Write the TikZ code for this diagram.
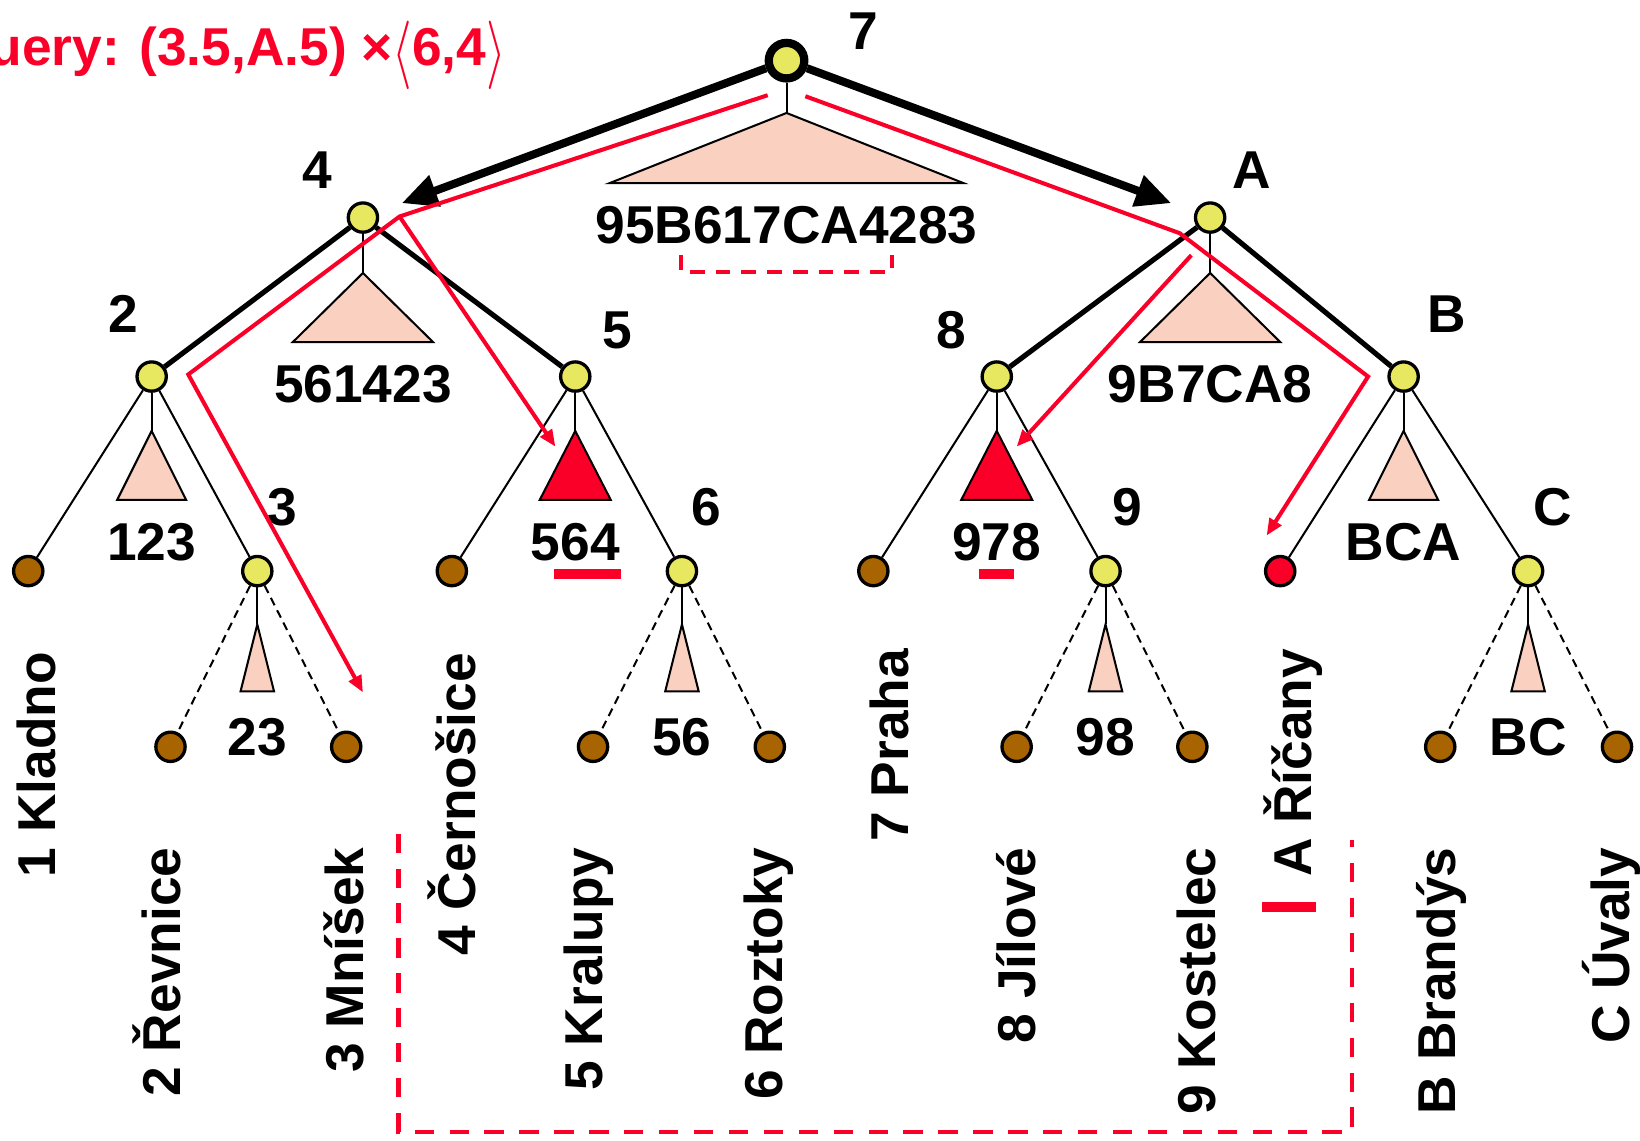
\documentclass[tikz,border=0pt]{standalone}
\usepackage{fontspec}
\setmainfont{Liberation Sans}
\usetikzlibrary{arrows.meta}
\definecolor{inner}{RGB}{232,232,96}
\definecolor{leafc}{RGB}{168,100,0}
\definecolor{subtree}{RGB}{250,208,192}
\definecolor{hit}{RGB}{250,0,40}
\newcommand{\lang}{\raisebox{-0.12em}{\scalebox{1.1}[1.5]{$\langle$}}}
\newcommand{\rang}{\raisebox{-0.12em}{\scalebox{1.1}[1.5]{$\rangle$}}}

\begin{document}
\begin{tikzpicture}[x=0.02cm,y=-0.02cm,font=\fontsize{29}{34}\selectfont\bfseries]
    \tikzset{vertex/.style = {shape=circle,draw,line width=1.8pt,fill=inner,minimum size=0.56cm,inner sep=0pt}}
    \tikzset{leaf/.style = {vertex,fill=leafc}}
    \tikzset{tri/.style = {draw,line width=1.1pt,fill=subtree}}
    \tikzset{branch/.style = {line width=1.1pt}}
    \tikzset{hidden/.style = {branch,dash pattern=on 4.5pt off 3pt}}
    \tikzset{trunk/.style = {line width=2.8pt}}
    \tikzset{descend/.style = {line width=4.4pt,-{Triangle[length=0.68cm,width=0.6cm]},shorten >=0.48cm}}
    \tikzset{way/.style = {hit,line width=2.2pt,-{Triangle[length=0.32cm,width=0.26cm]}}}
    \tikzset{rangebox/.style = {hit,line width=2.2pt,dash pattern=on 10.5pt off 8.5pt}}
    \tikzset{hitbar/.style = {hit,line width=5.7pt}}
    \tikzset{city/.style = {rotate=90,anchor=base east,inner sep=0pt}}
    \useasboundingbox (0,0) rectangle (1568,1090);
    % vertices
    \node[vertex,line width=4.5pt,minimum size=0.68cm] (n7) at (752,58) {};
    \node[vertex] (n4) at (347,208) {};
    \node[vertex] (nA) at (1157,208) {};
    \node[vertex] (n2) at (145,360) {};
    \node[vertex] (n5) at (550,360) {};
    \node[vertex] (n8) at (953,360) {};
    \node[vertex] (nB) at (1342,360) {};
    \node[vertex] (n3) at (246,546) {};
    \node[vertex] (n6) at (652,546) {};
    \node[vertex] (n9) at (1057,546) {};
    \node[vertex] (nC) at (1461,546) {};

    \node[leaf] (l1) at (27,546) {};
    \node[leaf] (l4) at (432,546) {};
    \node[leaf] (l7) at (835,546) {};
    \node[leaf,fill=hit] (lA) at (1224,546) {};
    \node[leaf] (l2) at (163,714) {};
    \node[leaf] (l3) at (331,714) {};
    \node[leaf] (l5) at (567,714) {};
    \node[leaf] (l6) at (736,714) {};
    \node[leaf] (l8) at (972,714) {};
    \node[leaf] (l9) at (1140,714) {};
    \node[leaf] (lB) at (1377,714) {};
    \node[leaf] (lC) at (1546,714) {};

    % keys
    \node (k7) at (825,30) {7};
    \node (k4) at (303,163) {4};
    \node (kA) at (1197,163) {A};
    \node (k2) at (118,300) {2};
    \node (k5) at (590,316) {5};
    \node (k8) at (910,316) {8};
    \node (kB) at (1383,300) {B};
    \node (k3) at (270,485) {3};
    \node (k6) at (675,485) {6};
    \node (k9) at (1078,485) {9};
    \node (kC) at (1485,485) {C};

    % subtrees
    \coordinate (t7) at (752,108);
    \coordinate (t4) at (347,261);
    \coordinate (tA) at (1157,261);
    \coordinate (t2) at (145,412);
    \coordinate (t5) at (550,412);
    \coordinate (t8) at (953,412);
    \coordinate (tB) at (1342,412);
    \coordinate (t3) at (246,597);
    \coordinate (t6) at (652,597);
    \coordinate (t9) at (1057,597);
    \coordinate (tC) at (1461,597);
    \draw[tri] (t7) -- ++(-169,67) -- ++(338,0) -- cycle;
    \draw[tri] (t4) -- ++(-67,66) -- ++(134,0) -- cycle;
    \draw[tri] (tA) -- ++(-67,66) -- ++(134,0) -- cycle;
    \draw[tri] (t2) -- ++(-33,66) -- ++(66,0) -- cycle;
    \draw[tri,fill=hit] (t5) -- ++(-34,66) -- ++(68,0) -- cycle;
    \draw[tri,fill=hit] (t8) -- ++(-34,66) -- ++(68,0) -- cycle;
    \draw[tri] (tB) -- ++(-33,66) -- ++(66,0) -- cycle;
    \draw[tri] (t3) -- ++(-16,64) -- ++(32,0) -- cycle;
    \draw[tri] (t6) -- ++(-16,64) -- ++(32,0) -- cycle;
    \draw[tri] (t9) -- ++(-16,64) -- ++(32,0) -- cycle;
    \draw[tri] (tC) -- ++(-16,64) -- ++(32,0) -- cycle;

    \node (s7) at (752,215) {95B617CA4283};
    \node (s4) at (347,367) {561423};
    \node (sA) at (1157,367) {9B7CA8};
    \node (s2) at (145,518) {123};
    \node (s5) at (550,518) {564};
    \node (s8) at (953,518) {978};
    \node (sB) at (1342,518) {BCA};
    \node (s3) at (246,705) {23};
    \node (s6) at (652,705) {56};
    \node (s9) at (1057,705) {98};
    \node (sC) at (1461,705) {BC};

    % cities
    \node[city] (c1) at (53,623) {1 Kladno};
    \node[city] (c4) at (455,624) {4 Černošice};
    \node[city] (c7) at (869,620) {7 Praha};
    \node[city] (cA) at (1254,620) {A Říčany};
    \node[city] (c2) at (173,810) {2 Řevnice};
    \node[city] (c3) at (348,810) {3 Mníšek};
    \node[city] (c5) at (576,810) {5 Kralupy};
    \node[city] (c6) at (748,810) {6 Roztoky};
    \node[city] (c8) at (990,810) {8 Jílové};
    \node[city] (c9) at (1162,810) {9 Kostelec};
    \node[city] (cB) at (1392,810) {B Brandýs};
    \node[city] (cC) at (1558,810) {C Úvaly};

    %edges
    \draw[descend] (n7) -- (n4);
    \draw[descend] (n7) -- (nA);
    \draw[trunk] (n4) -- (n2);
    \draw[trunk] (n4) -- (n5);
    \draw[trunk] (nA) -- (n8);
    \draw[trunk] (nA) -- (nB);

    \draw[branch] (n2) -- (l1);
    \draw[branch] (n2) -- (n3);
    \draw[branch] (n5) -- (l4);
    \draw[branch] (n5) -- (n6);
    \draw[branch] (n8) -- (l7);
    \draw[branch] (n8) -- (n9);
    \draw[branch] (nB) -- (lA);
    \draw[branch] (nB) -- (nC);

    \draw[hidden] (n3) -- (l2);
    \draw[hidden] (n3) -- (l3);
    \draw[hidden] (n6) -- (l5);
    \draw[hidden] (n6) -- (l6);
    \draw[hidden] (n9) -- (l8);
    \draw[hidden] (n9) -- (l9);
    \draw[hidden] (nC) -- (lB);
    \draw[hidden] (nC) -- (lC);

    % stems
    \draw[branch] (n7) -- (t7);
    \draw[branch] (n4) -- (t4);
    \draw[branch] (nA) -- (tA);
    \draw[branch] (n2) -- (t2);
    \draw[branch] (n5) -- (t5);
    \draw[branch] (n8) -- (t8);
    \draw[branch] (nB) -- (tB);
    \draw[branch] (n3) -- (t3);
    \draw[branch] (n6) -- (t6);
    \draw[branch] (n9) -- (t9);
    \draw[branch] (nC) -- (tC);

    % query
    \node[hit,anchor=base east] (query) at (490,63) {Query: (3.5,A.5) ×\lang6,4\rang};
    \coordinate (r1) at (734,91);
    \coordinate (r2) at (382,207);
    \coordinate (r3) at (180,358);
    \coordinate (e1) at (347,662);
    \coordinate (e2) at (531,427);
    \coordinate (r4) at (770,92);
    \coordinate (r5) at (1128,223);
    \coordinate (r6) at (1308,360);
    \coordinate (e3) at (1211,512);
    \coordinate (r7) at (1139,244);
    \coordinate (e4) at (972,427);
    \draw[way] (r1) -- (r2) -- (r3) -- (e1);
    \draw[way] (r2) -- (e2);
    \draw[way] (r4) -- (r5) -- (r6) -- (e3);
    \draw[way] (r7) -- (e4);

    \draw[hitbar] (530,549) -- (594,549);
    \draw[hitbar] (936,549) -- (969,549);
    \draw[hitbar] (1207,867) -- (1258,867);
    \draw[rangebox,dash pattern=on 8pt off 6pt] (651,244) -- (651,260) -- (853,260) -- (853,244);
    \draw[rangebox] (381,797) -- (381,1082) -- (1293,1082) -- (1293,803);
\end{tikzpicture}
\end{document}
